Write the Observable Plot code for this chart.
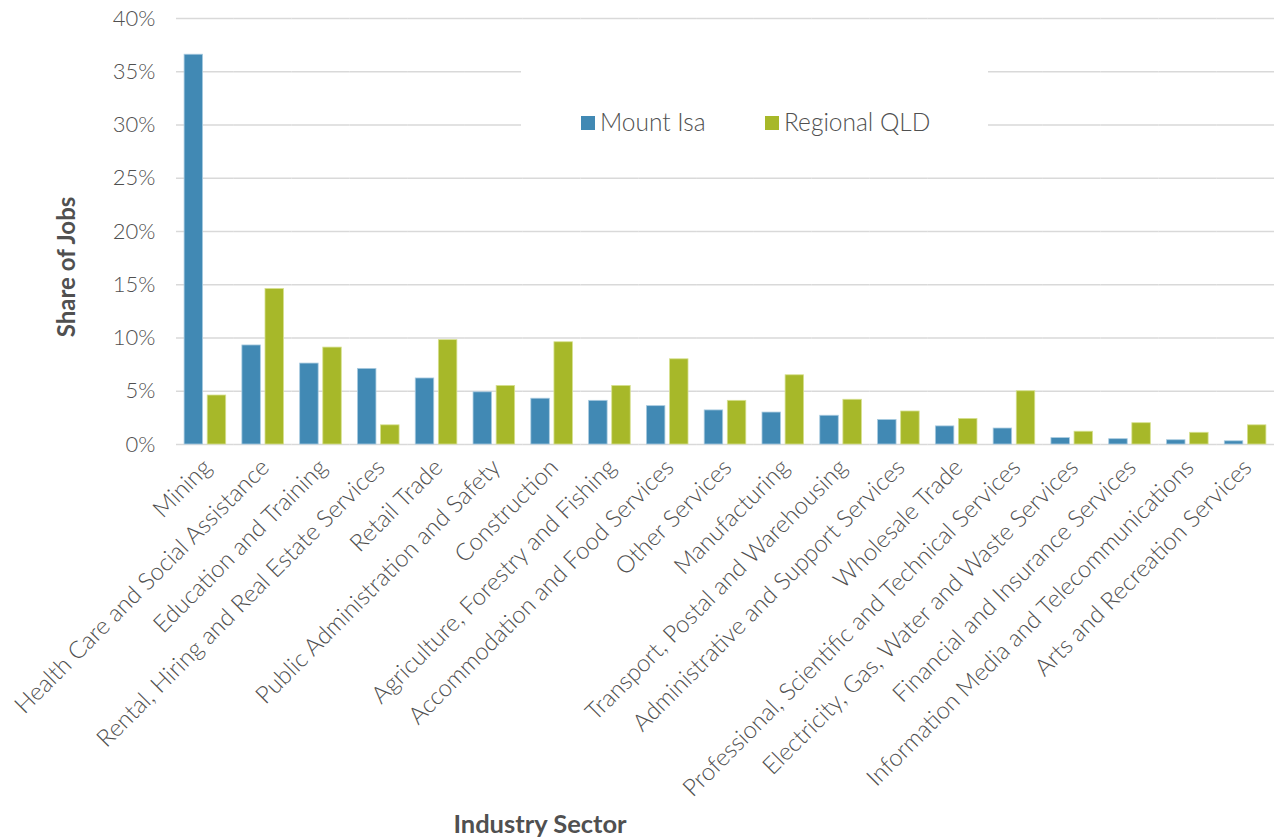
<!DOCTYPE html>
<html>
<head>
<meta charset="utf-8">
<script src="https://cdn.jsdelivr.net/npm/d3@7"></script>
<script src="https://cdn.jsdelivr.net/npm/@observablehq/plot@0.6"></script>
<style>
  html, body { margin: 0; padding: 0; background: #fff; }
  #chart { width: 1274px; height: 838px; }
  svg { font-family: Lato, "Open Sans", sans-serif; }
</style>
</head>
<body>
<div id="chart"></div>
<script>
const sectors = [
  "Mining",
  "Health Care and Social Assistance",
  "Education and Training",
  "Rental, Hiring and Real Estate Services",
  "Retail Trade",
  "Public Administration and Safety",
  "Construction",
  "Agriculture, Forestry and Fishing",
  "Accommodation and Food Services",
  "Other Services",
  "Manufacturing",
  "Transport, Postal and Warehousing",
  "Administrative and Support Services",
  "Wholesale Trade",
  "Professional, Scientific and Technical Services",
  "Electricity, Gas, Water and Waste Services",
  "Financial and Insurance Services",
  "Information Media and Telecommunications",
  "Arts and Recreation Services"
];
const seriesNames = ["Mount Isa", "Regional QLD"];
const mountIsa = [36.6, 9.3, 7.6, 7.1, 6.2, 4.9, 4.3, 4.1, 3.6, 3.2, 3.0, 2.7, 2.3, 1.7, 1.5, 0.6, 0.5, 0.4, 0.3];
const regionalQLD = [4.6, 14.6, 9.1, 1.8, 9.8, 5.5, 9.6, 5.5, 8.0, 4.1, 6.5, 4.2, 3.1, 2.4, 5.0, 1.2, 2.0, 1.1, 1.8];
const yTicks = [0, 5, 10, 15, 20, 25, 30, 35, 40];
const colors = ["#4189b4", "#a7b829"];
const edgeColors = ["#a9cbe0", "#d6e08f"];

const data = [];
sectors.forEach((s, i) => {
  data.push({sector: s, series: seriesNames[0], value: mountIsa[i]});
  data.push({sector: s, series: seriesNames[1], value: regionalQLD[i]});
});

const textColor = "#505050";
const fontFam = "Lato, 'Open Sans', sans-serif";

const plot = Plot.plot({
  width: 1274,
  height: 838,
  marginLeft: 176,
  marginRight: 0,
  marginTop: 18,
  marginBottom: 394,
  style: {fontFamily: fontFam, background: "#fff"},
  fx: {domain: sectors, paddingInner: 0, paddingOuter: 0, round: false, label: null},
  x: {domain: seriesNames, paddingInner: 0.2, paddingOuter: 0.35, round: false, axis: null},
  y: {domain: [0, 40], label: null},
  color: {domain: seriesNames, range: colors},
  marks: [
    Plot.ruleY(yTicks, {stroke: "#d9d9d9", strokeWidth: 1.6}),
    Plot.barY(data, {
      fx: "sector", x: "series", y: "value", fill: "series",
      stroke: d => edgeColors[seriesNames.indexOf(d.series)], strokeWidth: 0.8
    }),
    Plot.axisY({
      ticks: yTicks, tickFormat: d => d + "%", tickSize: 0, tickPadding: 21,
      fontSize: 22, fontWeight: 300, color: textColor, label: null
    }),
    Plot.axisFx({
      anchor: "bottom", tickRotate: -45, tickSize: 0, tickPadding: 19, dx: 2,
      fontSize: 24, fontWeight: 300, color: textColor, label: null
    })
  ]
});

document.getElementById("chart").appendChild(plot);

const svg = d3.select(plot);

// Legend (drawn over gridlines with white background)
const lg = svg.append("g").attr("class", "legend").attr("text-anchor", "start");
lg.append("rect").attr("x", 521).attr("y", 66).attr("width", 467).attr("height", 109).attr("fill", "#fff");
const items = [{x: 581, name: seriesNames[0], c: colors[0]}, {x: 765, name: seriesNames[1], c: colors[1]}];
items.forEach(it => {
  lg.append("rect").attr("x", it.x).attr("y", 116).attr("width", 14).attr("height", 14).attr("fill", it.c);
  lg.append("text").attr("x", it.x + 19).attr("y", 131).attr("font-size", 24.5).attr("font-weight", 300)
    .attr("fill", textColor).attr("font-family", fontFam).text(it.name);
});

// Axis titles
svg.append("text")
  .attr("transform", "translate(75,267) rotate(-90)")
  .attr("text-anchor", "middle")
  .attr("font-size", 24).attr("font-weight", "bold").attr("fill", textColor)
  .attr("font-family", fontFam)
  .text("Share of Jobs");
svg.append("text")
  .attr("x", 540).attr("y", 833)
  .attr("text-anchor", "middle")
  .attr("font-size", 25.5).attr("font-weight", "bold").attr("fill", textColor)
  .attr("font-family", fontFam)
  .text("Industry Sector");
</script>
</body>
</html>
